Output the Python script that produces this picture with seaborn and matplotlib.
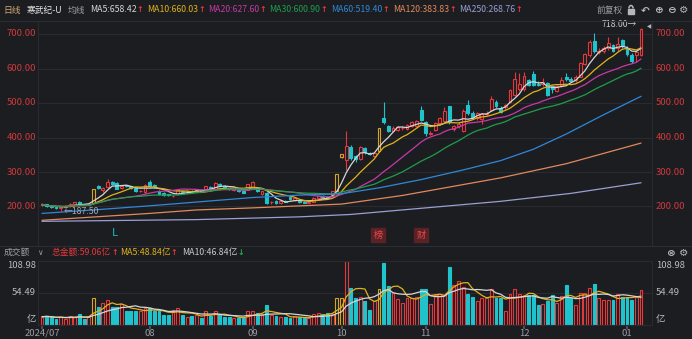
import numpy as np
import pandas as pd
import matplotlib
matplotlib.use("Agg")
import matplotlib.pyplot as plt
from matplotlib.patches import Rectangle
import seaborn as sns

# ---------------- daily data (2024/07/01 - 2025/01/07) ----------------
opens = [203, 206, 201, 198, 196, 199, 201, 207, 213, 206,
         205, 209, 258, 247, 256, 270, 268, 254, 261, 258,
         254, 244, 241, 272, 262, 245, 240, 235, 229, 235,
         246, 243, 245, 244, 247, 246, 257, 252, 266, 260,
         252, 249, 249, 244, 249, 256, 255, 236, 240, 212,
         216, 210, 215, 227, 218, 217, 213, 211, 214, 224,
         230, 228, 230, 246, 343, 336, 372, 345, 338, 370,
         355, 346, 360, 457, 432, 420, 422, 427, 425, 432,
         432, 480, 446, 410, 422, 443, 448, 490, 425, 432,
         420, 493, 472, 456, 455, 468, 480, 503, 486, 488,
         503, 523, 542, 540, 566, 585, 556, 554, 558, 548,
         536, 550, 575, 570, 566, 576, 614, 638, 680, 648,
         650, 660, 668, 658, 682, 660, 640, 638, 640]
highs = [208, 207, 202, 200, 201, 203, 210, 214, 215, 208,
         209, 249.6, 262, 256, 281, 273, 270, 262, 263, 260,
         256, 248, 265, 276, 265, 247, 242, 237, 233, 250,
         249, 247, 248, 249, 250, 260, 259, 272, 268, 262,
         254, 252, 250, 246, 266, 273, 257, 246, 242, 216,
         218, 218, 218, 230, 226, 219, 215, 216, 228, 231,
         232, 231, 246, 292.8, 351.4, 418, 378, 348, 376, 373,
         358, 358, 427.2, 504, 436, 432, 433, 432, 440, 449,
         450, 490, 448, 418, 446, 460, 488, 492, 437, 444,
         482, 508, 476, 474, 472, 476, 520, 508, 490, 497,
         542, 590, 588, 590, 570, 592, 563, 572, 560, 552,
         552, 574, 588, 574, 580, 620, 646, 682, 702, 658,
         664, 692, 672, 690, 686, 664, 644, 652, 718]
lows = [200, 199, 195, 193, 187.5, 197, 199, 205, 204, 203,
        203, 207, 250, 243, 254, 262, 250, 251, 256, 250,
        243, 241, 240, 256, 255, 233, 231, 229, 227, 233,
        241, 240, 241, 242, 244, 245, 251, 250, 260, 252,
        247, 246, 243, 238, 247, 254, 241, 233, 207, 208,
        206, 208, 212, 220, 216, 210, 209, 209, 212, 222,
        224, 224, 228, 245, 341, 307, 334, 330, 335, 352,
        348, 343, 358, 440, 416, 418, 419, 423, 422, 430,
        430, 448, 405, 406, 420, 440, 445, 440, 420, 428,
        415, 466, 454, 452, 440, 466, 476, 486, 470, 484,
        500, 520, 536, 536, 548, 548, 548, 550, 520, 528,
        532, 545, 565, 560, 562, 574, 610, 632, 646, 642,
        644, 654, 648, 652, 660, 636, 616, 620, 636]
closes = [206, 201, 198, 196, 199, 200, 208, 212, 206, 205,
          208, 249.6, 254, 254, 272, 266, 252, 260, 259, 255,
          245, 246, 262, 258, 258, 236, 234, 232, 231, 248,
          243, 245, 243, 247, 246, 258, 254, 268, 263, 254,
          250, 250, 245, 240, 264, 270, 244, 244, 210, 214,
          209, 216, 214, 222, 224, 212, 211, 214, 226, 229,
          226, 226, 244, 292.8, 351.4, 374, 340, 338, 372, 357,
          352, 356, 427.2, 446, 420, 428, 430, 428, 437, 446,
          448, 451, 414, 414, 443, 457, 478, 445, 432, 440,
          478, 470, 458, 470, 468, 472, 513, 490, 474, 494,
          538, 570, 556, 578, 553, 552, 552, 560, 522, 540,
          550, 568, 570, 565, 575, 615, 641, 675.7, 652, 652,
          658, 675, 652, 671.2, 665, 642, 622, 648, 715.1]
turnover = [14, 15, 13, 10, 14, 10, 16, 13, 18, 10,
            13, 45, 31, 38, 43, 30, 31, 36, 23, 23,
            24, 23, 28, 28, 23, 23, 17, 17, 26, 28,
            17, 14, 16, 17, 11, 23, 15, 23, 17, 14,
            13, 11, 11, 12, 23, 23, 21, 19, 34, 17,
            15, 14, 13, 11, 15, 14, 11, 11, 19, 20,
            19, 20, 19, 45, 45, 108.98, 62, 45, 48, 40,
            26, 40, 60, 105, 66, 54, 44, 37, 45, 45,
            48, 61, 60, 35, 51, 53, 51, 98, 68, 74,
            65, 53, 47, 40, 45, 45, 61, 45, 45, 23,
            53, 61, 52, 51, 51, 51, 34, 36, 41, 51,
            37, 49, 68, 45, 34, 54, 54, 62, 69, 46,
            42, 42, 42, 52.2, 48, 47, 42, 48.14, 59.06]
limit_up_days = [11, 63, 64, 72]

# long moving averages (values at selected sessions)
ma60_days = [0, 12, 23, 34, 45, 55, 64, 72, 81, 90, 98, 105, 112, 120, 128]
ma60_vals = [180, 191, 202, 214, 226, 233, 237, 254, 278, 306, 333, 366, 410, 466, 519.40]
ma120_days = [0, 23, 33, 45, 64, 77, 98, 112, 128]
ma120_vals = [160, 180, 190, 196, 207, 232, 283, 324, 383.83]
ma250_days = [0, 33, 55, 66, 98, 113, 128]
ma250_vals = [157, 162, 170, 177, 215, 238, 268.76]

month_ticks = [0, 23, 45, 64, 82, 103, 125]
month_labels = ["2024/07", "08", "09", "10", "11", "12", "01"]
price_ticks = [200, 300, 400, 500, 600, 700]
vol_ticks = [54.49, 108.98]

# ---------------- style ----------------
BG = "#1c1d21"
GRID = "#2a2b31"
RED = "#e3393c"
CYAN = "#20c2cc"
GOLD = "#d8a225"
TXT = "#9c9ea6"
C_MA5, C_MA10, C_MA20, C_MA30 = "#d6d6d6", "#e0b21c", "#c53aa6", "#1f9d4c"
C_MA60, C_MA120, C_MA250 = "#2f88d8", "#e0895c", "#9a9fd4"
FS = 6.3

sns.set_theme(style="dark", rc={"axes.facecolor": BG, "figure.facecolor": BG})
plt.rcParams["font.family"] = ["Noto Sans CJK SC", "DejaVu Sans"]

W, H = 692, 339
fig = plt.figure(figsize=(W / 100, H / 100), dpi=100, facecolor=BG)


def box(x0, y0, x1, y1):
    return [x0 / W, 1 - y1 / H, (x1 - x0) / W, (y1 - y0) / H]


def px(x, y):
    return x / W, 1 - y / H


n = len(closes)
days = np.arange(n)
df = pd.DataFrame({"day": days, "open": opens, "high": highs, "low": lows,
                   "close": closes, "amount": turnover})
for w in (5, 10, 20, 30):
    df[f"ma{w}"] = df["close"].rolling(w, min_periods=1).mean()
df["vma5"] = df["amount"].rolling(5, min_periods=1).mean()
df["vma10"] = df["amount"].rolling(10, min_periods=1).mean()

XL = ((38 - 42) / 4.68, (652 - 42) / 4.68)

# ---------------- price panel ----------------
ax = fig.add_axes(box(38, 21, 652, 245))
ax.set_facecolor(BG)
ax.set_xlim(*XL)
ax.set_ylim(88.4, 737.7)
for p in price_ticks:
    ax.axhline(p, color=GRID, lw=0.8, zorder=0)

BW = 0.62
for i in range(n):
    o, h, l, c = opens[i], highs[i], lows[i], closes[i]
    if i in limit_up_days:
        col, hollow = GOLD, True
    elif c >= o:
        col, hollow = RED, True
    else:
        col, hollow = CYAN, False
    top, bot = max(o, c), min(o, c)
    ax.vlines(i, l, h, color=col, lw=0.8, zorder=2)
    ax.add_patch(Rectangle((i - BW / 2, bot), BW, max(top - bot, 1.2),
                           facecolor=BG if hollow else col, edgecolor=col,
                           lw=0.8, zorder=2.5))

for key, colr in (("ma5", C_MA5), ("ma10", C_MA10), ("ma20", C_MA20), ("ma30", C_MA30)):
    sns.lineplot(data=df, x="day", y=key, ax=ax, color=colr, lw=0.9, zorder=3)
for d, v, colr in ((ma60_days, ma60_vals, C_MA60), (ma120_days, ma120_vals, C_MA120),
                   (ma250_days, ma250_vals, C_MA250)):
    sns.lineplot(x=d, y=v, ax=ax, color=colr, lw=0.9, zorder=3)

ax.set_xticks([])
ax.set_yticks([])
ax.set_xlabel("")
ax.set_ylabel("")
for s in ("top", "bottom"):
    ax.spines[s].set_visible(False)
for s in ("left", "right"):
    ax.spines[s].set_color(GRID)
    ax.spines[s].set_linewidth(0.8)

hi_day = int(np.argmax(highs))
lo_day = int(np.argmin(lows))
ax.text(hi_day - 0.8, 729, f"{highs[hi_day]:.2f}\u2192", color="#c8c9cc",
        fontsize=FS, ha="right", va="center")
ax.text(lo_day + 0.6, lows[lo_day] - 1, f"\u2190{lows[lo_day]:.2f}", color="#a8aab0",
        fontsize=FS, ha="left", va="center")

# ---------------- turnover panel ----------------
axv = fig.add_axes(box(38, 260.5, 652, 325))
axv.set_facecolor(BG)
axv.set_xlim(*XL)
axv.set_ylim(0, 108.98)
axv.axhline(54.49, color=GRID, lw=0.8, zorder=0)
for i in range(n):
    v = turnover[i]
    if i in limit_up_days:
        col, hollow = GOLD, True
    elif closes[i] >= opens[i]:
        col, hollow = RED, True
    else:
        col, hollow = CYAN, False
    axv.add_patch(Rectangle((i - BW / 2, 0), BW, v, facecolor=BG if hollow else col,
                            edgecolor=col, lw=0.8, zorder=2))
sns.lineplot(data=df, x="day", y="vma5", ax=axv, color=C_MA10, lw=0.9, zorder=3)
sns.lineplot(data=df, x="day", y="vma10", ax=axv, color=C_MA5, lw=0.9, zorder=3)
axv.set_xlabel("")
axv.set_ylabel("")
axv.set_yticks([])
axv.set_xticks(month_ticks)
axv.set_xticklabels([])
axv.tick_params(axis="x", length=3, color="#55575e", bottom=True)
for s in ("left", "right", "top", "bottom"):
    axv.spines[s].set_color(GRID)
    axv.spines[s].set_linewidth(0.8)

# ---------------- axis labels ----------------
def py(p):
    return 34 + (700 - p) * 0.345


for p in price_ticks:
    fig.text(*px(36, py(p)), f"{p:.2f}", color="#d0393c", fontsize=6.8, ha="right", va="center")
    fig.text(*px(656, py(p)), f"{p:.2f}", color="#d0393c", fontsize=6.8, ha="left", va="center")

for lab, yy in (("108.98", 266), ("54.49", 292.5), ("亿", 319.5)):
    fig.text(*px(36, yy), lab, color="#b8bac0", fontsize=6.8, ha="right", va="center")
    fig.text(*px(656, yy), lab, color="#b8bac0", fontsize=6.8, ha="left", va="center")

for d, lab in zip(month_ticks, month_labels):
    fig.text(*px(42 + 4.68 * d, 333), lab, color=TXT, fontsize=6.8, ha="center", va="center")

# separators
for yy in (20.5, 245.5):
    fig.add_artist(plt.Line2D([0, 1], [1 - yy / H] * 2, color="#2c2d33", lw=0.8))

# ---------------- header rows ----------------
renderer = fig.canvas.get_renderer()


def label(x, y, s, color, arrow=None, acolor=RED, size=FS):
    t = fig.text(*px(x, y), s, color=color, fontsize=size, ha="left", va="center")
    if arrow:
        bb = t.get_window_extent(renderer=renderer)
        fig.text(*px(bb.x1 + 0.3, y), arrow, color=acolor, fontsize=size - 0.5,
                 ha="left", va="center", fontweight="bold", family="DejaVu Sans")


label(3, 10, "日线", "#d2a874")
label(27, 10, "寒武纪-U", "#e6e6e6")
label(68, 10, "均线", TXT)
ma_last = df.iloc[-1]
label(90, 10, f"MA5:{ma_last['ma5']:.2f}", C_MA5, "↑")
label(147, 10, f"MA10:{ma_last['ma10']:.2f}", C_MA10, "↑")
label(208, 10, f"MA20:{ma_last['ma20']:.2f}", C_MA20, "↑")
label(269, 10, f"MA30:{ma_last['ma30']:.2f}", C_MA30, "↑")
label(331, 10, f"MA60:{ma60_vals[-1]:.2f}", C_MA60, "↑")
label(393, 10, f"MA120:{ma120_vals[-1]:.2f}", C_MA120, "↑")
label(459, 10, f"MA250:{ma250_vals[-1]:.2f}", C_MA250, "↑")
label(597, 10, "前复权", TXT)
for xx, sym in ((645, "↶"), (658, "⊕"), (671, "⊖"), (684, "⚙")):
    fig.text(*px(xx, 10), sym, color="#b5b7bd", fontsize=7.5, ha="center", va="center",
             family="DejaVu Sans", fontweight="bold")
fig.add_artist(Rectangle(px(628, 13.5), 6 / W, 5 / H, color="#b5b7bd"))
fig.add_artist(matplotlib.patches.Arc(px(631, 8.5), 4.2 / W, 6 / H, theta1=0, theta2=180,
                                      color="#b5b7bd", lw=1.1))

label(4, 252.5, "成交额", TXT)
fig.text(*px(37, 252.5), "∨", color=TXT, fontsize=5.5, ha="left", va="center", family="DejaVu Sans")
label(52, 252.5, f"总金额:{turnover[-1]:.2f}亿", RED, "↑")
label(120, 252.5, f"MA5:{df['vma5'].iloc[-1]:.2f}亿", C_MA10, "↑")
label(182, 252.5, f"MA10:{df['vma10'].iloc[-1]:.2f}亿", "#c9cbd0", "↓", acolor="#23b04c")
for xx, sym in ((670, "⊗"), (684, "⚙")):
    fig.text(*px(xx, 252.5), sym, color="#b5b7bd", fontsize=7.5, ha="center", va="center",
             family="DejaVu Sans", fontweight="bold")

# price marker on the right edge
fig.text(*px(649, 27), "◀", color="#b5b7bd", fontsize=4, ha="center", va="center", family="DejaVu Sans")

# signal markers under the candles
fig.text(*px(115, 233), "L", color="#1fb6c0", fontsize=8, ha="center", va="center")
for xx, s in ((378, "榜"), (421, "财")):
    fig.add_artist(Rectangle(px(xx - 7, 242), 14 / W, 14 / H, color="#5a2226"))
    fig.text(*px(xx, 235), s, color="#e8494d", fontsize=6.6, ha="center", va="center")

fig.savefig("out.png", dpi=100, facecolor=BG)
